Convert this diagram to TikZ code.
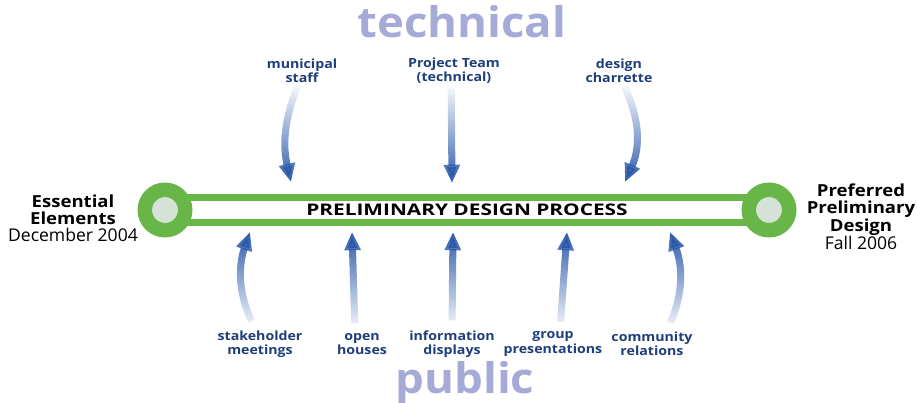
\documentclass[tikz,border=0pt]{standalone}
\usepackage{fontspec}
\setmainfont{Open Sans}
\newfontfamily\labelfont[FakeStretch=1.12]{Open Sans}
\newfontfamily\barfont[FakeStretch=1.3]{Open Sans}
\newfontfamily\sidefont[FakeStretch=1.08]{Open Sans}
\usetikzlibrary{arrows.meta}
\usetikzlibrary{fadings}

\definecolor{ringgreen}{RGB}{104,182,72}
\definecolor{ringcore}{RGB}{214,226,216}
\definecolor{flowblue}{RGB}{38,86,168}
\definecolor{labelblue}{RGB}{30,62,122}
\definecolor{sidelilac}{RGB}{166,170,214}

\tikzfading[name=tail up, top color=transparent!0, bottom color=transparent!100]
\tikzfading[name=tail down, top color=transparent!100, bottom color=transparent!0]

\tikzset{
	inflow/.style={flowblue, line width=5pt, -{Triangle[width=11pt,length=13pt]}},
	from above/.style={inflow, path fading=tail down, shorten <=2pt},
	from below/.style={inflow, path fading=tail up, shorten <=6pt},
	source/.style={text=labelblue, align=center, inner sep=1pt,
		font=\labelfont\bfseries\fontsize{9}{10}\selectfont},
	milestone/.style={circle, draw=ringgreen, fill=ringcore, line width=10.3pt,
		minimum size=28.8pt, inner sep=0pt},
	endpoint/.style={align=center, inner sep=0pt, font=\fontsize{12.5}{12.2}\selectfont},
	side/.style={text=sidelilac, inner sep=0pt, font=\sidefont\bfseries\fontsize{30}{30}\selectfont}
}
\newcommand{\stagename}[1]{{\labelfont\bfseries\fontsize{11.8}{12.2}\selectfont #1}}

\begin{document}
\begin{tikzpicture}[x=0.25mm, y=0.25mm]
	\useasboundingbox (0,0) rectangle (917,-403);

	% the process bar and its two ends
	\node (process) at (467,-210) [draw=ringgreen, line width=4.3pt, fill=white,
		minimum width=429pt, minimum height=17.8pt,
		font=\barfont\bfseries\fontsize{11.4}{11.4}\selectfont] {PRELIMINARY DESIGN PROCESS};
	\node (start) at (165,-210) [milestone] {};
	\node (finish) at (769,-210) [milestone] {};

	\node (essential) at (73,-218) [endpoint] {\stagename{Essential}\\\stagename{Elements}\\December 2004};
	\node (preferred) at (861,-217) [endpoint] {\stagename{Preferred}\\\stagename{Preliminary}\\\stagename{Design}\\Fall 2006};

	\node (technical) at (462,-22) [side] {technical};
	\node (public) at (465,-383) [side] {public};

	% inputs from the technical side
	\node (staff) at (302,-71) [source] {municipal\\staff};
	\node (team) at (454,-71) [source] {Project Team\\(technical)};
	\node (charrette) at (619,-71) [source] {design\\charrette};

	\coordinate (staff-in) at (291,-182);
	\coordinate (team-in) at (452,-183);
	\coordinate (charrette-in) at (625,-182);

	\draw [from above] ([xshift=-2.8pt]staff.south) to[bend right=17] (staff-in);
	\draw [from above] ([xshift=-2pt]team.south) -- (team-in);
	\draw [from above] ([xshift=3pt]charrette.south) to[bend left=25] (charrette-in);

	% inputs from the public side
	\node (stake) at (260,-344) [source] {stakeholder\\meetings};
	\node (houses) at (362,-344) [source] {open\\houses};
	\node (info) at (452,-344) [source] {information\\displays};
	\node (groups) at (553,-344) [source] {group\\presentations};
	\node (community) at (652,-344) [source] {community\\relations};

	\coordinate (stake-in) at (250,-232);
	\coordinate (houses-in) at (352,-232);
	\coordinate (info-in) at (453,-232);
	\coordinate (groups-in) at (567,-232);
	\coordinate (community-in) at (670,-232);

	\draw [from below] ([xshift=-3.5pt]stake.north) to[bend left=22] (stake-in);
	\draw [from below] ([xshift=-5pt]houses.north) -- (houses-in);
	\draw [from below] (info.north) -- (info-in);
	\draw [from below] ([xshift=5pt]groups.north) -- (groups-in);
	\draw [from below] ([xshift=10.7pt]community.north) to[bend right=22] (community-in);
\end{tikzpicture}
\end{document}
